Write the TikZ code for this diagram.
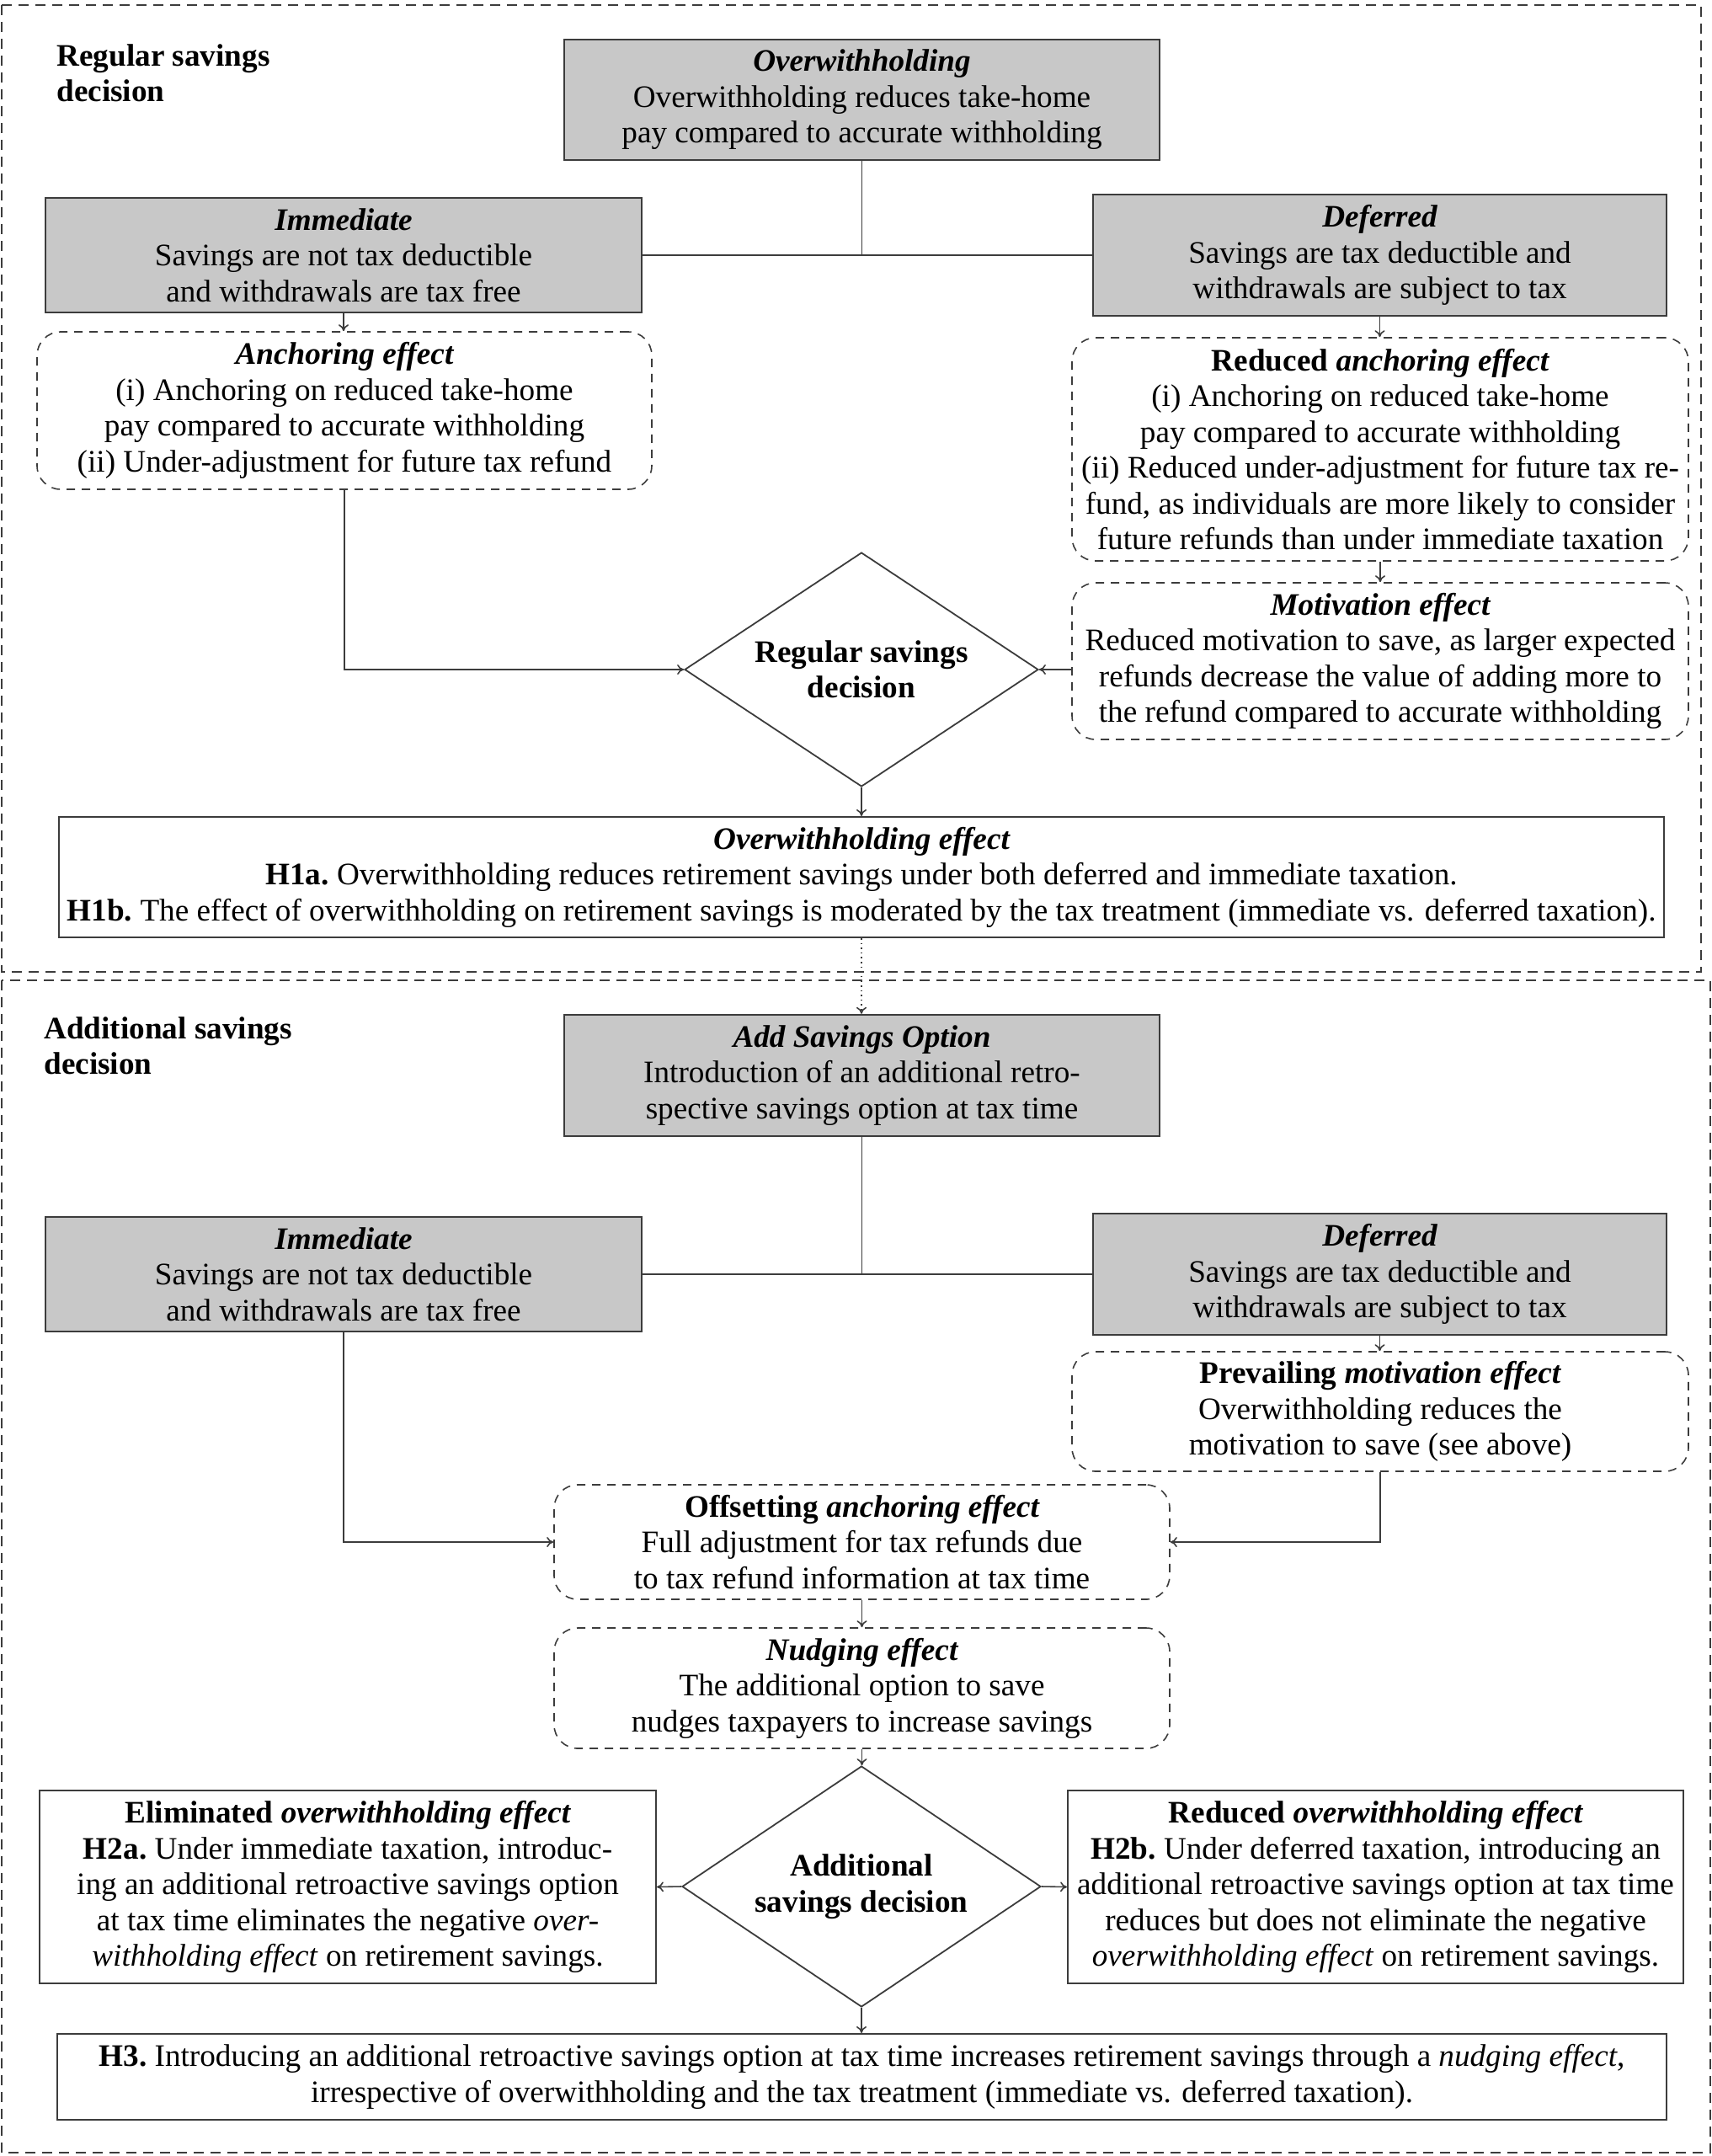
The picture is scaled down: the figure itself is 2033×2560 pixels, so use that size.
\documentclass[tikz,border=0pt]{standalone}
\usepackage{fontspec}
\setmainfont{Liberation Serif}
\usetikzlibrary{shapes.geometric,arrows.meta}
\newcommand\myfs{\fontsize{18.6pt}{21.25pt}\selectfont}
\definecolor{boxgray}{RGB}{200,200,200}
\definecolor{linegray}{RGB}{60,60,60}
\begin{document}
\begin{tikzpicture}[x=0.5pt,y=-0.5pt,
  every node/.style={font=\myfs, align=center, inner sep=0pt},
  graybox/.style={draw=linegray, line width=1.2pt, fill=boxgray},
  dashbox/.style={draw=linegray, dash pattern=on 5pt off 4pt, rounded corners=14pt, line width=0.8pt},
  plainbox/.style={draw=linegray, line width=1pt},
  decision/.style={diamond, aspect=2, draw=linegray, line width=0.9pt, font=\myfs\bfseries, minimum width=210pt, minimum height=139pt},
  conn/.style={draw=linegray, line width=0.8pt},
  arr/.style={conn, -{To[length=4pt,width=6pt]}},
  sectionframe/.style={draw=linegray, dash pattern=on 6pt off 4pt, line width=0.9pt},
  title/.style={font=\myfs\bfseries, align=left, anchor=north west},
]
\useasboundingbox (0,0) rectangle (2033,2560);
% section frames
\draw[sectionframe] (2,6) rectangle (2020,1154);
\draw[sectionframe] (2,1164) rectangle (2031,2556);

\node[title] (t1) at (67,52) {Regular savings\\decision};
\node[title] (t2) at (52,1207) {Additional savings\\decision};

% ---------- top section ----------
\node[graybox, minimum width=353.5pt, minimum height=71.5pt] (ow) at (1023.5,118.5)
  {{\bfseries\itshape Overwithholding}\\Overwithholding reduces take-home\\pay compared to accurate withholding};
\node[graybox, minimum width=354pt, minimum height=68pt] (imm1) at (408,303)
  {{\bfseries\itshape Immediate}\\Savings are not tax deductible\\and withdrawals are tax free};
\node[graybox, minimum width=340.5pt, minimum height=72pt] (def1) at (1638.5,303)
  {{\bfseries\itshape Deferred}\\Savings are tax deductible and\\withdrawals are subject to tax};
\node[dashbox, minimum width=365pt, minimum height=93.5pt] (anc) at (409,487.5)
  {{\bfseries\itshape Anchoring effect}\\(i) Anchoring on reduced take-home\\pay compared to accurate withholding\\(ii) Under-adjustment for future tax refund};
\node[dashbox, minimum width=366pt, minimum height=132.5pt] (ranc) at (1639,533.5)
  {{\bfseries Reduced \itshape anchoring effect}\\(i) Anchoring on reduced take-home\\pay compared to accurate withholding\\(ii) Reduced under-adjustment for future tax re-\\fund, as individuals are more likely to consider\\future refunds than under immediate taxation};
\node[dashbox, minimum width=366pt, minimum height=93pt] (mot) at (1639,785)
  {{\bfseries\itshape Motivation effect}\\Reduced motivation to save, as larger expected\\refunds decrease the value of adding more to\\the refund compared to accurate withholding};
\node[decision] (dia1) at (1023,795) {Regular savings\\decision};
\node[plainbox, minimum width=953pt, minimum height=71.5pt] (h1) at (1023,1041.5)
  {{\bfseries\itshape Overwithholding effect}\\{\bfseries H1a.}\ Overwithholding reduces retirement savings under both deferred and immediate taxation.\\{\bfseries H1b.}\ The effect of overwithholding on retirement savings is moderated by the tax treatment (immediate vs. deferred taxation).};

% ---------- bottom section ----------
\node[graybox, minimum width=353.5pt, minimum height=72pt] (add) at (1023.5,1277)
  {{\bfseries\itshape Add Savings Option}\\Introduction of an additional retro-\\spective savings option at tax time};
\node[graybox, minimum width=354pt, minimum height=68pt] (imm2) at (408,1513)
  {{\bfseries\itshape Immediate}\\Savings are not tax deductible\\and withdrawals are tax free};
\node[graybox, minimum width=340.5pt, minimum height=72pt] (def2) at (1638.5,1513)
  {{\bfseries\itshape Deferred}\\Savings are tax deductible and\\withdrawals are subject to tax};
\node[dashbox, minimum width=366pt, minimum height=71pt] (prev) at (1639,1676)
  {{\bfseries Prevailing \itshape motivation effect}\\Overwithholding reduces the\\motivation to save (see above)};
\node[dashbox, minimum width=365.5pt, minimum height=68pt] (off) at (1023.5,1831)
  {{\bfseries Offsetting \itshape anchoring effect}\\Full adjustment for tax refunds due\\to tax refund information at tax time};
\node[dashbox, minimum width=365.5pt, minimum height=71.5pt] (nud) at (1023.5,2004.5)
  {{\bfseries\itshape Nudging effect}\\The additional option to save\\nudges taxpayers to increase savings};
\node[decision, minimum width=213pt, minimum height=143pt] (dia2) at (1023,2240) {Additional\\savings decision};
\node[plainbox, minimum width=366pt, minimum height=114.5pt] (elim) at (413,2240.5)
  {{\bfseries Eliminated \itshape overwithholding effect}\\{\bfseries H2a.}\ Under immediate taxation, introduc-\\ing an additional retroactive savings option\\at tax time eliminates the negative \emph{over-}\\\emph{withholding effect} on retirement savings.};
\node[plainbox, minimum width=365.5pt, minimum height=114.5pt] (red) at (1633.5,2240.5)
  {{\bfseries Reduced \itshape overwithholding effect}\\{\bfseries H2b.}\ Under deferred taxation, introducing an\\additional retroactive savings option at tax time\\reduces but does not eliminate the negative\\\emph{overwithholding effect} on retirement savings.};
\node[plainbox, minimum width=955.5pt, minimum height=51pt] (h3) at (1023.5,2466)
  {{\bfseries H3.}\ Introducing an additional retroactive savings option at tax time increases retirement savings through a \emph{nudging effect},\\irrespective of overwithholding and the tax treatment (immediate vs. deferred taxation).};

% ---------- connectors ----------
\draw[conn] (ow.south) -- (ow.south |- imm1.east);
\draw[conn] (imm1.east) -- (def1.west);
\draw[arr] (imm1.south) -- (imm1.south |- anc.north);
\draw[arr] (def1.south) -- (def1.south |- ranc.north);
\draw[arr] (ranc.south) -- (mot.north);
\draw[arr] (anc.south) |- (dia1.west);
\draw[arr] (mot.west |- dia1.east) -- (dia1.east);
\draw[arr] (dia1.south) -- (dia1.south |- h1.north);
\draw[arr, dotted] (h1.south) -- (h1.south |- add.north);

\draw[conn] (add.south) -- (add.south |- imm2.east);
\draw[conn] (imm2.east) -- (def2.west);
\draw[arr] (def2.south) -- (def2.south |- prev.north);
\draw[arr] (imm2.south) |- (off.west);
\draw[arr] (prev.south) |- (off.east);
\draw[arr] (off.south) -- (nud.north);
\draw[arr] (nud.south) -- (nud.south |- dia2.north);
\draw[arr] (dia2.west) -- (elim.east);
\draw[arr] (dia2.east) -- (red.west);
\draw[arr] (dia2.south) -- (dia2.south |- h3.north);
\end{tikzpicture}
\end{document}
